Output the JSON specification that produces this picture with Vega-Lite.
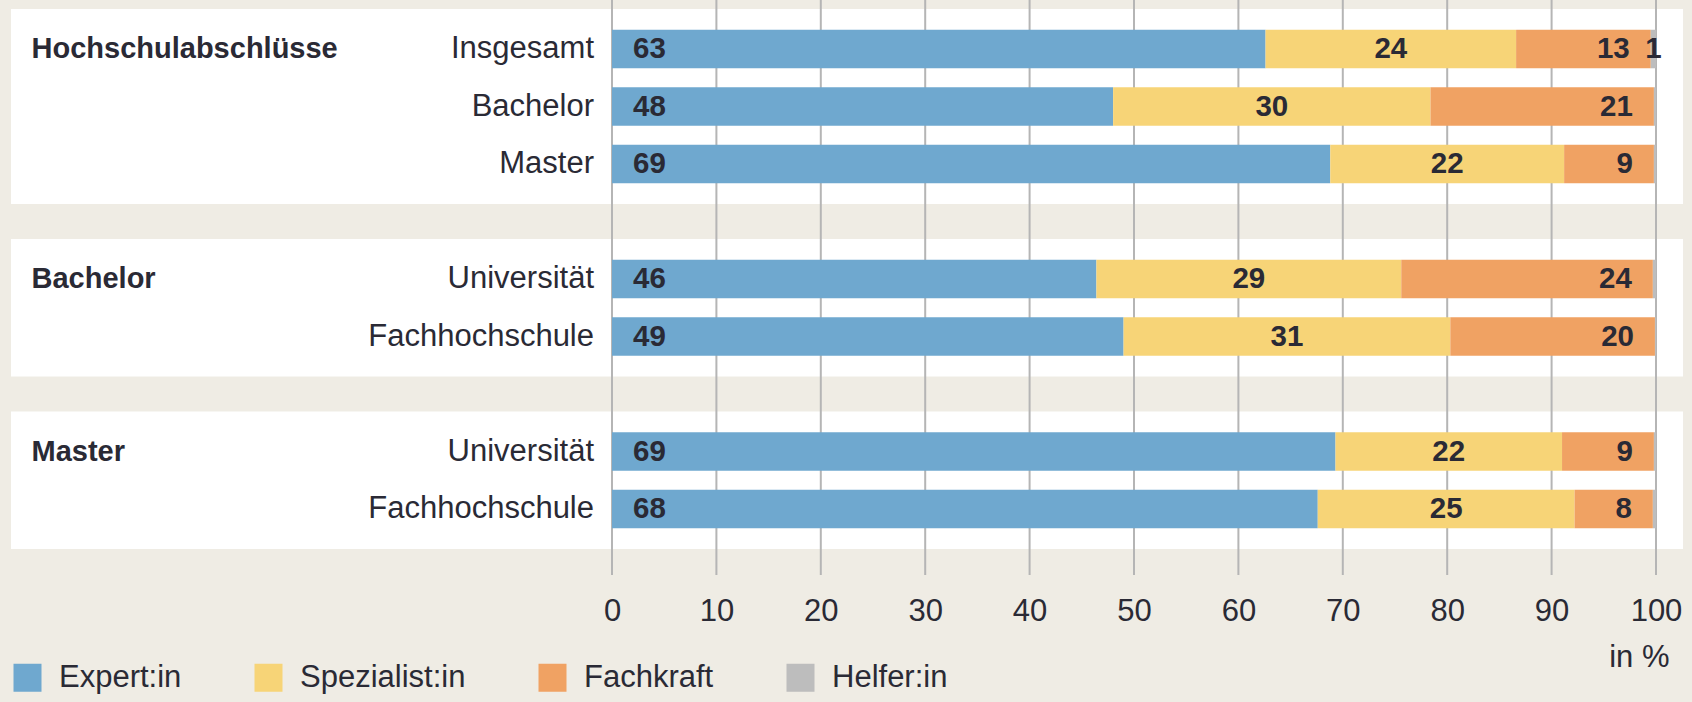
{
  "$schema": "https://vega.github.io/schema/vega-lite/v6.json",
  "width": 1044,
  "height": 575,
  "autosize": {"type": "none"},
  "padding": {"left": 612, "top": 0, "right": 36, "bottom": 127},
  "background": "#efece4",
  "config": {
    "view": {"stroke": null},
    "font": "Liberation Sans",
    "axisX": {"tickCount": 10, "grid": false, "domain": false, "ticks": false, "tickSize": 0,
      "labelPadding": 36, "labelBaseline": "middle", "labelFontSize": 31, "labelColor": "#2a2a35", "labelFlush": false, "labelOverlap": false,
      "titleFontSize": 31, "titleFontWeight": "normal", "titleColor": "#2a2a35", "titleAnchor": "end", "titleAlign": "right", "titleBaseline": "middle", "titleX": 1057, "titleY": 82},
    "axisY": {"domain": false, "ticks": false, "tickSize": 0, "grid": false, "labelPadding": 18.5, "labelFontSize": 31, "labelColor": "#2a2a35", "labelLimit": 0}
  },
  "datasets": {
    "werte": [
      {"Gruppe": "Hochschulabschlüsse", "Abschluss": "Insgesamt", "Kategorie": "Expert:in", "Wert": 62.6},
      {"Gruppe": "Hochschulabschlüsse", "Abschluss": "Insgesamt", "Kategorie": "Spezialist:in", "Wert": 24.0},
      {"Gruppe": "Hochschulabschlüsse", "Abschluss": "Insgesamt", "Kategorie": "Fachkraft", "Wert": 12.9},
      {"Gruppe": "Hochschulabschlüsse", "Abschluss": "Insgesamt", "Kategorie": "Helfer:in", "Wert": 0.5},
      {"Gruppe": "Hochschulabschlüsse", "Abschluss": "Bachelor", "Kategorie": "Expert:in", "Wert": 48.0},
      {"Gruppe": "Hochschulabschlüsse", "Abschluss": "Bachelor", "Kategorie": "Spezialist:in", "Wert": 30.4},
      {"Gruppe": "Hochschulabschlüsse", "Abschluss": "Bachelor", "Kategorie": "Fachkraft", "Wert": 21.4},
      {"Gruppe": "Hochschulabschlüsse", "Abschluss": "Bachelor", "Kategorie": "Helfer:in", "Wert": 0.2},
      {"Gruppe": "Hochschulabschlüsse", "Abschluss": "Master", "Kategorie": "Expert:in", "Wert": 68.8},
      {"Gruppe": "Hochschulabschlüsse", "Abschluss": "Master", "Kategorie": "Spezialist:in", "Wert": 22.4},
      {"Gruppe": "Hochschulabschlüsse", "Abschluss": "Master", "Kategorie": "Fachkraft", "Wert": 8.6},
      {"Gruppe": "Hochschulabschlüsse", "Abschluss": "Master", "Kategorie": "Helfer:in", "Wert": 0.2},
      {"Gruppe": "Bachelor", "Abschluss": "Universität", "Kategorie": "Expert:in", "Wert": 46.4},
      {"Gruppe": "Bachelor", "Abschluss": "Universität", "Kategorie": "Spezialist:in", "Wert": 29.2},
      {"Gruppe": "Bachelor", "Abschluss": "Universität", "Kategorie": "Fachkraft", "Wert": 24.1},
      {"Gruppe": "Bachelor", "Abschluss": "Universität", "Kategorie": "Helfer:in", "Wert": 0.3},
      {"Gruppe": "Bachelor", "Abschluss": "Fachhochschule", "Kategorie": "Expert:in", "Wert": 49.0},
      {"Gruppe": "Bachelor", "Abschluss": "Fachhochschule", "Kategorie": "Spezialist:in", "Wert": 31.3},
      {"Gruppe": "Bachelor", "Abschluss": "Fachhochschule", "Kategorie": "Fachkraft", "Wert": 19.6},
      {"Gruppe": "Bachelor", "Abschluss": "Fachhochschule", "Kategorie": "Helfer:in", "Wert": 0.1},
      {"Gruppe": "Master", "Abschluss": "Universität", "Kategorie": "Expert:in", "Wert": 69.3},
      {"Gruppe": "Master", "Abschluss": "Universität", "Kategorie": "Spezialist:in", "Wert": 21.7},
      {"Gruppe": "Master", "Abschluss": "Universität", "Kategorie": "Fachkraft", "Wert": 8.8},
      {"Gruppe": "Master", "Abschluss": "Universität", "Kategorie": "Helfer:in", "Wert": 0.2},
      {"Gruppe": "Master", "Abschluss": "Fachhochschule", "Kategorie": "Expert:in", "Wert": 67.6},
      {"Gruppe": "Master", "Abschluss": "Fachhochschule", "Kategorie": "Spezialist:in", "Wert": 24.6},
      {"Gruppe": "Master", "Abschluss": "Fachhochschule", "Kategorie": "Fachkraft", "Wert": 7.5},
      {"Gruppe": "Master", "Abschluss": "Fachhochschule", "Kategorie": "Helfer:in", "Wert": 0.3}
    ],
    "gruppen": [
      {"Gruppe": "Hochschulabschlüsse", "Abschluss": "Insgesamt"},
      {"Gruppe": "Bachelor", "Abschluss": "Universität"},
      {"Gruppe": "Master", "Abschluss": "Universität"}
    ],
    "raster": [
      {"x": 0}, {"x": 10}, {"x": 20}, {"x": 30}, {"x": 40}, {"x": 50},
      {"x": 60}, {"x": 70}, {"x": 80}, {"x": 90}, {"x": 100}
    ]
  },
  "encoding": {
    "y": {"field": "key", "type": "nominal", "title": null,
      "scale": {"domain": ["Hochschulabschlüsse|Insgesamt", "Hochschulabschlüsse|Bachelor", "Hochschulabschlüsse|Master", "gap1", "Bachelor|Universität", "Bachelor|Fachhochschule", "gap2", "Master|Universität", "Master|Fachhochschule"], "paddingInner": 0.33, "paddingOuter": 0.665, "align": 0.389},
      "axis": {"zindex": 2, "labelExpr": "indexof(datum.value, '|') >= 0 ? split(datum.value, '|')[1] : ''"}}
  },
  "layer": [
    {
      "data": {"name": "werte"},
      "transform": [
        {"filter": "datum.Kategorie === 'Expert:in'"},
        {"calculate": "datum.Gruppe + '|' + datum.Abschluss", "as": "key"}
      ],
      "mark": {"type": "bar", "color": "#ffffff", "height": 80},
      "encoding": {
        "x": {"datum": -57.57, "type": "quantitative", "title": "in %", "scale": {"domain": [0, 100], "nice": false, "zero": false}},
        "x2": {"datum": 102.59}
      }
    },
    {
      "data": {"name": "raster"},
      "mark": {"type": "rule", "color": "#b5b5b5", "strokeWidth": 2},
      "encoding": {
        "y": null,
        "x": {"field": "x", "type": "quantitative", "title": "in %"}
      }
    },
    {
      "data": {"name": "werte"},
      "transform": [
        {"calculate": "datum.Gruppe + '|' + datum.Abschluss", "as": "key"},
        {"calculate": "indexof(['Expert:in','Spezialist:in','Fachkraft','Helfer:in'], datum.Kategorie)", "as": "ord"},
        {"stack": "Wert", "groupby": ["key"], "sort": [{"field": "ord", "order": "ascending"}], "as": ["x0", "x1"]}
      ],
      "layer": [
        {
          "mark": {"type": "bar"},
          "encoding": {
            "x": {"field": "x0", "type": "quantitative", "title": "in %"},
            "x2": {"field": "x1"},
            "color": {"field": "Kategorie", "type": "nominal",
              "scale": {"domain": ["Expert:in", "Spezialist:in", "Fachkraft", "Helfer:in"], "range": ["#6fa8cf", "#f7d477", "#f0a263", "#bdbdbd"]},
              "legend": {"orient": "none", "legendX": -600, "legendY": 662, "direction": "horizontal", "title": null,
                "symbolType": "square", "symbolSize": 784, "symbolStrokeWidth": 0, "symbolOpacity": 1,
                "labelFontSize": 31, "labelColor": "#2a2a35", "labelOffset": 16, "columnPadding": 71, "labelLimit": 0}}
          }
        },
        {
          "transform": [{"filter": "datum.Kategorie === 'Expert:in' && round(datum.Wert) >= 1"}],
          "mark": {"type": "text", "align": "left", "baseline": "middle", "dx": 21, "fontSize": 29.5, "fontWeight": "bold", "color": "#2a2a35"},
          "encoding": {
            "x": {"field": "x0", "type": "quantitative", "title": "in %"},
            "text": {"field": "Wert", "type": "quantitative", "format": ".0f"}
          }
        },
        {
          "transform": [
            {"filter": "(datum.Kategorie === 'Spezialist:in' || datum.Kategorie === 'Helfer:in') && round(datum.Wert) >= 1"},
            {"calculate": "(datum.x0 + datum.x1) / 2", "as": "mitte"}
          ],
          "mark": {"type": "text", "align": "center", "baseline": "middle", "fontSize": 29.5, "fontWeight": "bold", "color": "#2a2a35"},
          "encoding": {
            "x": {"field": "mitte", "type": "quantitative", "title": "in %"},
            "text": {"field": "Wert", "type": "quantitative", "format": ".0f"}
          }
        },
        {
          "transform": [{"filter": "datum.Kategorie === 'Fachkraft' && round(datum.Wert) >= 1"}],
          "mark": {"type": "text", "align": "right", "baseline": "middle", "dx": -21, "fontSize": 29.5, "fontWeight": "bold", "color": "#2a2a35"},
          "encoding": {
            "x": {"field": "x1", "type": "quantitative", "title": "in %"},
            "text": {"field": "Wert", "type": "quantitative", "format": ".0f"}
          }
        }
      ]
    },
    {
      "data": {"name": "gruppen"},
      "transform": [{"calculate": "datum.Gruppe + '|' + datum.Abschluss", "as": "key"}],
      "mark": {"type": "text", "align": "left", "baseline": "middle", "fontSize": 29, "fontWeight": "bold", "color": "#2a2a35"},
      "encoding": {
        "x": {"datum": -55.6, "type": "quantitative", "title": "in %"},
        "text": {"field": "Gruppe", "type": "nominal"}
      }
    }
  ]
}
